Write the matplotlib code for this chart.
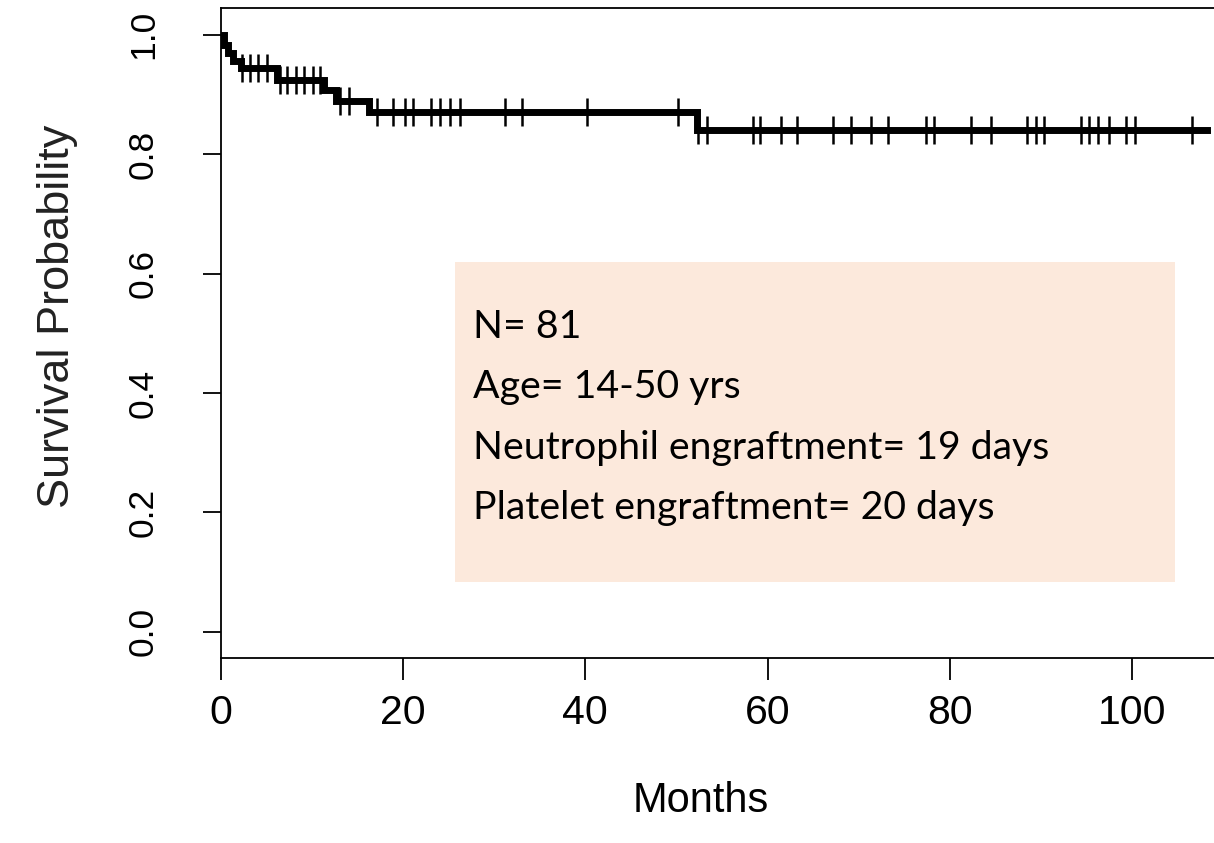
import numpy as np
import matplotlib.pyplot as plt
from matplotlib.patches import Rectangle

# Kaplan-Meier curve
event_months = [0.0, 0.3, 0.8, 1.3, 2.2, 6.2, 11.3, 12.6, 16.3, 52.2]
event_surv = [1.0, 0.983, 0.970, 0.957, 0.944, 0.924, 0.907, 0.889, 0.870, 0.840]
censor_months = [2.3, 3.2, 4.1, 5.0, 6.5, 7.3, 8.2, 9.1, 10.1, 10.9, 13.1, 14.1,
                 17.1, 18.9, 20.2, 21.1, 23.1, 24.0, 25.1, 26.2, 31.2, 33.0, 40.2, 50.2,
                 52.4, 53.3, 58.4, 59.2, 61.5, 63.2, 67.2, 69.2, 71.3, 73.2, 77.4, 78.3,
                 82.3, 84.5, 88.5, 89.5, 90.3, 94.4, 95.3, 96.3, 97.5, 99.3, 100.3, 106.6]
last_month = 108.2

x_ticks = [0, 20, 40, 60, 80, 100]
y_ticks = [0.0, 0.2, 0.4, 0.6, 0.8, 1.0]
box_lines = ["N= 81", "Age= 14-50 yrs", "Neutrophil engraftment= 19 days",
             "Platelet engraftment= 20 days"]

plt.rcParams['font.family'] = ['Liberation Sans', 'DejaVu Sans']

fig = plt.figure(figsize=(12.14, 8.43), dpi=100)
ax = fig.add_axes([0.182, 0.2195, 0.818, 0.771])

# step line
xs = list(event_months) + [last_month]
ys = list(event_surv) + [event_surv[-1]]
ax.step(xs, ys, where='post', color='black', lw=5.0, solid_joinstyle='miter')

# censor marks
idx = np.searchsorted(event_months, censor_months, side='right') - 1
cy = np.array(event_surv)[idx]
ax.plot(censor_months, cy, linestyle='none', marker='|', color='black',
        markersize=20, markeredgewidth=1.8)

ax.set_xlim(0, 109)
ax.set_ylim(-0.044, 1.045)
ax.spines['right'].set_visible(False)
for s in ['left', 'top', 'bottom']:
    ax.spines[s].set_linewidth(1.3)

ax.set_xticks(x_ticks)
ax.set_xticklabels([str(v) for v in x_ticks])
ax.set_yticks(y_ticks)
ax.set_yticklabels([f"{v:.1f}" for v in y_ticks], rotation=90, va='center')
ax.tick_params(axis='x', length=16, width=1.3, pad=10, labelsize=29.5)
ax.tick_params(axis='y', length=13, width=1.3, pad=31, labelsize=25.5)

ax.set_xlabel("Months", fontsize=30)
ax.xaxis.set_label_coords(0.483, -0.22)
ax.xaxis.label.set_va('center')
ax.set_ylabel("Survival Probability", fontsize=32.5, color='#222222')
ax.yaxis.set_label_coords(-0.165, 0.525)
ax.yaxis.label.set_va('center')

# info box
ax.add_patch(Rectangle((0.2357, 0.1169), 0.725, 0.4923, transform=ax.transAxes,
                       facecolor='#fce9dc', edgecolor='none', zorder=0))
for i, line in enumerate(box_lines):
    ax.text(0.2538, 0.4923 - i * 0.0928, line, transform=ax.transAxes,
            fontsize=28.3, family=['Lato', 'DejaVu Sans'], va='baseline', ha='left')

fig.savefig('out.png', dpi=100)
